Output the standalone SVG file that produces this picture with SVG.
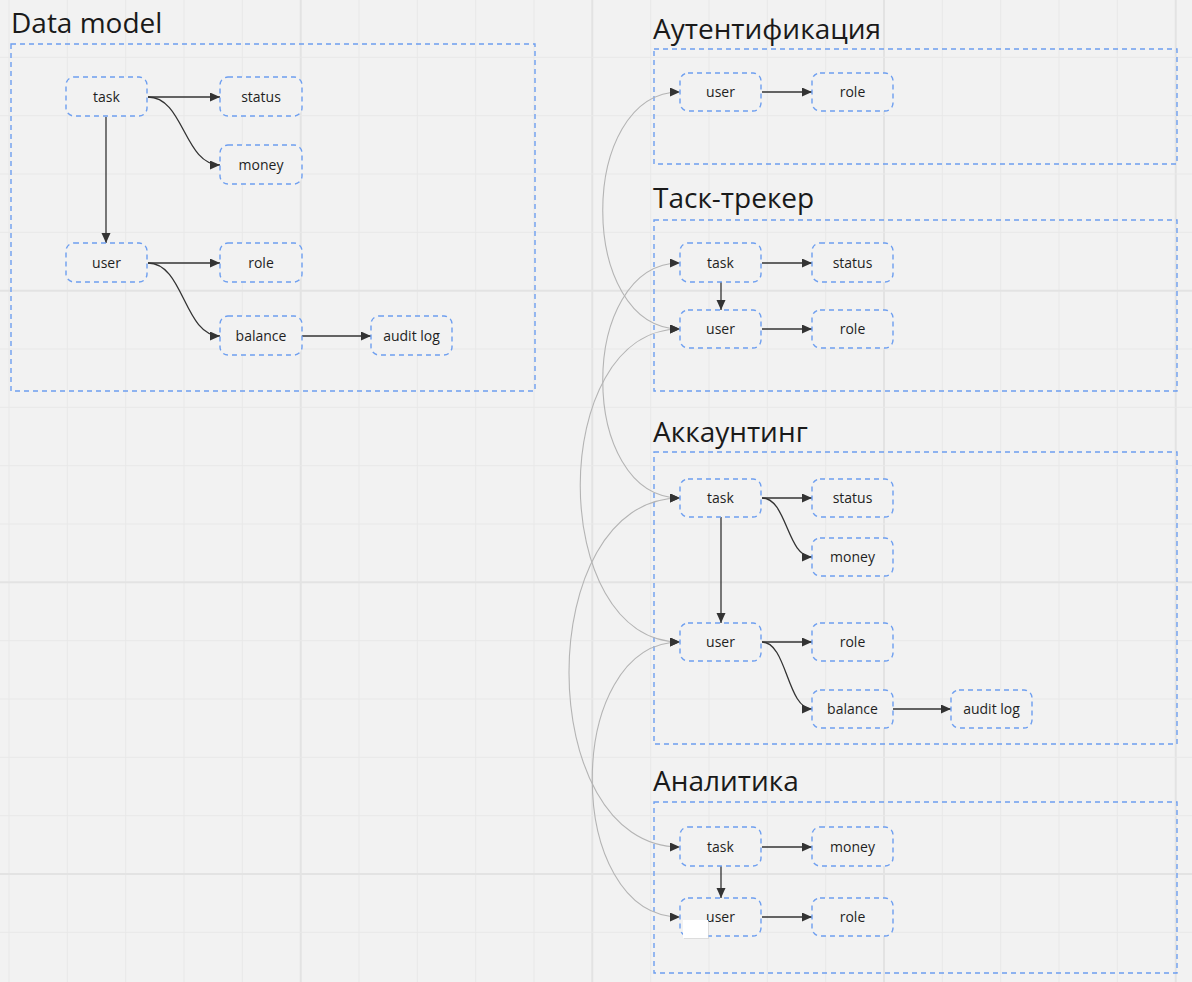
<svg xmlns="http://www.w3.org/2000/svg" width="1192" height="982" viewBox="0 0 1192 982">
<style>
.bg{fill:#f2f2f2}
.g{stroke:#e8e8e8;stroke-width:1}
.gm{stroke:#e3e3e3;stroke-width:2}
.frame{fill:none;stroke:#6e9ff0;stroke-width:1.4;stroke-dasharray:5 4}
.node rect{fill:#f2f2f2;stroke:#6e9ff0;stroke-width:1.4;stroke-dasharray:5 4}
.node text{font-family:"Open Sans","Noto Sans",sans-serif;font-size:14px;fill:#1f1f1f;text-anchor:middle}
.title{font-family:"Open Sans","Noto Sans",sans-serif;font-size:28px;fill:#1a1a1a}
.c{fill:none;stroke:#333;stroke-width:1.3;marker-end:url(#ah)}
.cg{fill:none;stroke:#b4b4b4;stroke-width:1.1;marker-end:url(#ah);marker-start:url(#ah)}
</style>
<defs>
<marker id="ah" markerUnits="userSpaceOnUse" markerWidth="11" markerHeight="10" refX="10" refY="4.5" orient="auto-start-reverse">
<path d="M0,0 L10,4.5 L0,9 z" fill="#333"/>
</marker>
</defs>
<rect class="bg" x="0" y="0" width="1192" height="982"/>
<g id="grid">
<path class="g" d="M9,0V982M67.3,0V982M125.7,0V982M184,0V982M242.3,0V982M359,0V982M417.3,0V982M475.7,0V982M534,0V982M650.7,0V982M709,0V982M767.3,0V982M825.7,0V982M942.3,0V982M1000.7,0V982M1059,0V982M1117.3,0V982"/>
<path class="gm" d="M300.7,0V982M592.3,0V982M884,0V982M1175.7,0V982"/>
<path class="g" d="M0,57.3H1192M0,115.7H1192M0,174H1192M0,232.3H1192M0,349H1192M0,407.3H1192M0,465.7H1192M0,524H1192M0,640.7H1192M0,699H1192M0,757.3H1192M0,815.7H1192M0,932.3H1192"/>
<path class="gm" d="M0,290.7H1192M0,582.3H1192M0,874H1192"/>
</g>
<g id="frames">
<text class="title" x="11" y="33">Data model</text>
<rect class="frame" x="11" y="44" width="524" height="347"/>
<text class="title" x="653" y="39">Аутентификация</text>
<rect class="frame" x="654" y="49" width="523" height="115"/>
<text class="title" x="653" y="208">Таск-трекер</text>
<rect class="frame" x="654" y="220" width="523" height="171"/>
<text class="title" x="653" y="442">Аккаунтинг</text>
<rect class="frame" x="654" y="452" width="523" height="292"/>
<text class="title" x="653" y="791">Аналитика</text>
<rect class="frame" x="654" y="802" width="523" height="171"/>
</g>
<g id="connectors">
<path class="c" d="M148,97H220"/>
<path class="c" d="M148,97C184,97 184,165 220,165"/>
<path class="c" d="M106,117V243"/>
<path class="c" d="M148,263H220"/>
<path class="c" d="M148,263C184,263 184,336 220,336"/>
<path class="c" d="M302,336H371"/>
<path class="c" d="M762,92H812"/>
<path class="c" d="M762,263H812"/>
<path class="c" d="M721,282V310"/>
<path class="c" d="M762,329H812"/>
<path class="c" d="M762,498H812"/>
<path class="c" d="M762,498C787,498 787,557 812,557"/>
<path class="c" d="M721,517V623"/>
<path class="c" d="M762,642H812"/>
<path class="c" d="M762,642C787,642 787,709 812,709"/>
<path class="c" d="M893,709H951"/>
<path class="c" d="M762,847H812"/>
<path class="c" d="M721,866V898"/>
<path class="c" d="M762,917H812"/>
<path class="cg" d="M680,92C577,92 577,329 680,329"/>
<path class="cg" d="M680,263C577,263 577,498 680,498"/>
<path class="cg" d="M680,329C547,329 547,642 680,642"/>
<path class="cg" d="M680,498C532,498 532,847 680,847"/>
<path class="cg" d="M680,642C563,642 563,917 680,917"/>
</g>
<g id="dm-task" class="node"><rect x="66" y="77" width="81" height="39" rx="8"/><text x="106.5" y="102">task</text></g>
<g id="dm-status" class="node"><rect x="220" y="77" width="82" height="39" rx="8"/><text x="261" y="102">status</text></g>
<g id="dm-money" class="node"><rect x="220" y="145" width="82" height="39" rx="8"/><text x="261" y="170">money</text></g>
<g id="dm-user" class="node"><rect x="66" y="243" width="81" height="39" rx="8"/><text x="106.5" y="268">user</text></g>
<g id="dm-role" class="node"><rect x="220" y="243" width="82" height="39" rx="8"/><text x="261" y="268">role</text></g>
<g id="dm-balance" class="node"><rect x="220" y="316" width="82" height="39" rx="8"/><text x="261" y="341">balance</text></g>
<g id="dm-audit" class="node"><rect x="371" y="316" width="81" height="39" rx="8"/><text x="411.5" y="341">audit log</text></g>
<g id="auth-user" class="node"><rect x="680" y="73" width="81" height="38" rx="8"/><text x="720.5" y="97">user</text></g>
<g id="auth-role" class="node"><rect x="812" y="73" width="81" height="38" rx="8"/><text x="852.5" y="97">role</text></g>
<g id="tt-task" class="node"><rect x="680" y="243" width="81" height="39" rx="8"/><text x="720.5" y="268">task</text></g>
<g id="tt-status" class="node"><rect x="812" y="243" width="81" height="39" rx="8"/><text x="852.5" y="268">status</text></g>
<g id="tt-user" class="node"><rect x="680" y="310" width="81" height="38" rx="8"/><text x="720.5" y="334">user</text></g>
<g id="tt-role" class="node"><rect x="812" y="310" width="81" height="38" rx="8"/><text x="852.5" y="334">role</text></g>
<g id="acc-task" class="node"><rect x="680" y="479" width="81" height="38" rx="8"/><text x="720.5" y="503">task</text></g>
<g id="acc-status" class="node"><rect x="812" y="479" width="81" height="38" rx="8"/><text x="852.5" y="503">status</text></g>
<g id="acc-money" class="node"><rect x="812" y="538" width="81" height="38" rx="8"/><text x="852.5" y="562">money</text></g>
<g id="acc-user" class="node"><rect x="680" y="623" width="81" height="38" rx="8"/><text x="720.5" y="647">user</text></g>
<g id="acc-role" class="node"><rect x="812" y="623" width="81" height="38" rx="8"/><text x="852.5" y="647">role</text></g>
<g id="acc-balance" class="node"><rect x="812" y="690" width="81" height="38" rx="8"/><text x="852.5" y="714">balance</text></g>
<g id="acc-audit" class="node"><rect x="951" y="690" width="81" height="38" rx="8"/><text x="991.5" y="714">audit log</text></g>
<g id="an-task" class="node"><rect x="680" y="827" width="81" height="39" rx="8"/><text x="720.5" y="852">task</text></g>
<g id="an-money" class="node"><rect x="812" y="827" width="81" height="39" rx="8"/><text x="852.5" y="852">money</text></g>
<g id="an-user" class="node"><rect x="680" y="898" width="81" height="38" rx="8"/><text x="720.5" y="922">user</text></g>
<g id="an-role" class="node"><rect x="812" y="898" width="81" height="38" rx="8"/><text x="852.5" y="922">role</text></g>
<g id="card">
<rect x="684" y="921" width="25" height="18" fill="#cfcfcf" opacity="0.6"/>
<rect x="683" y="920" width="25" height="18" fill="#ffffff"/>
</g>
</svg>
